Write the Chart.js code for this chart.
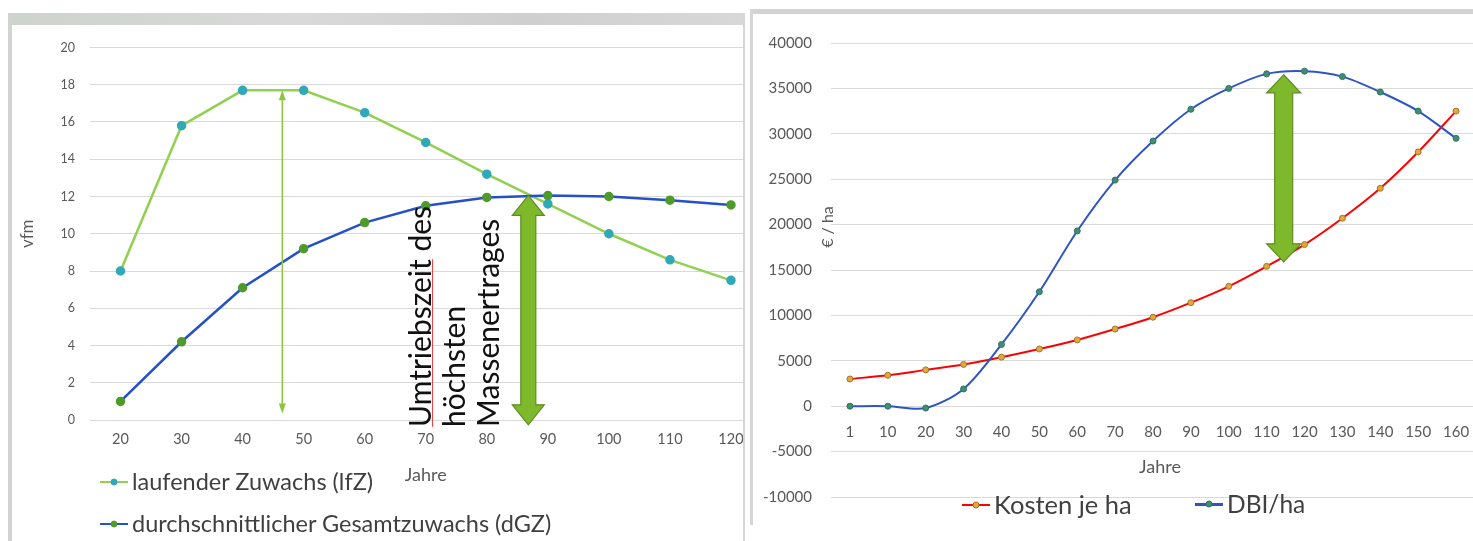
<!DOCTYPE html>
<html>
<head>
<meta charset="utf-8">
<script src="https://cdn.jsdelivr.net/npm/chart.js@4.4.0/dist/chart.umd.min.js"></script>
<style>
  body { margin: 0; width: 1473px; height: 541px; overflow: hidden; position: relative; background: #fff; font-family: Lato, sans-serif; }
  .deco { position: absolute; }
  .clip { position: absolute; overflow: hidden; }
  .lg { position: absolute; display: flex; align-items: center; color: #404040; white-space: nowrap; line-height: 1; }
  .sw { position: relative; width: 28px; height: 2.5px; background: var(--c); margin-right: 4px; }
  .sw::after { content: ''; position: absolute; left: 50%; top: 50%; width: 7px; height: 7px; border-radius: 50%;
               background: var(--m); border: 1px solid var(--b); box-sizing: border-box; transform: translate(-50%, -50%); }
</style>
</head>
<body>
<!-- panel frames -->
<div class="deco" style="left:8px;top:13px;width:737px;height:12px;background:linear-gradient(90deg,#cdd3cd,#d9d9d9 40%,#cfcfcf 70%,#d8d8d8)"></div>
<div class="deco" style="left:8px;top:13px;width:4px;height:528px;background:#d2d2d2"></div>
<div class="deco" style="left:743px;top:13px;width:2px;height:528px;background:#d6d6d6"></div>
<div class="deco" style="left:750px;top:9px;width:723px;height:5px;background:#d3d3d3"></div>
<div class="deco" style="left:750px;top:9px;width:3px;height:516px;background:#d6d6d6"></div>

<div class="clip" style="left:12px;top:25px;width:731px;height:516px">
  <canvas id="leftChart" width="756" height="516"></canvas>
</div>
<div class="clip" style="left:753px;top:14px;width:720px;height:511px">
  <canvas id="rightChart" width="727" height="511"></canvas>
</div>

<!-- legends -->
<div class="lg" style="left:100px;top:470px;font-size:23.5px"><span class="sw" style="--c:#92d050;--m:#31a8b8;--b:#31a8b8"></span>laufender Zuwachs (lfZ)</div>
<div class="lg" style="left:100px;top:512px;font-size:23.5px"><span class="sw" style="--c:#2450c8;--m:#4e9a2a;--b:#4e9a2a"></span>durchschnittlicher Gesamtzuwachs (dGZ)</div>
<div class="lg" style="left:962px;top:492px;font-size:25.5px"><span class="sw" style="--c:#ff0000;--m:#e9a53c;--b:#9a7a2a"></span>Kosten je ha</div>
<div class="lg" style="left:1195px;top:492px;font-size:24.5px"><span class="sw" style="--c:#2e55c4;--m:#3f8f6f;--b:#2f6f6f"></span>DBI/ha</div>

<script>
// left chart data (vfm per year)
const leftYears = ['20', '30', '40', '50', '60', '70', '80', '90', '100', '110', '120'];
const lfz = [8.0, 15.8, 17.7, 17.7, 16.5, 14.9, 13.2, 11.6, 10.0, 8.6, 7.5];
const dgz = [1.0, 4.2, 7.1, 9.2, 10.6, 11.5, 11.95, 12.05, 12.0, 11.8, 11.55];

// right chart data (Euro per ha)
const rightYears = ['1', '10', '20', '30', '40', '50', '60', '70', '80', '90', '100', '110', '120', '130', '140', '150', '160'];
const kosten = [3000, 3400, 4000, 4600, 5400, 6300, 7300, 8500, 9800, 11400, 13200, 15400, 17800, 20700, 24000, 28000, 32500];
const dbi = [0, 0, -200, 1900, 6800, 12600, 19300, 24900, 29200, 32700, 35000, 36600, 36900, 36300, 34600, 32500, 29500];

// annotations in data units (category index, value)
const leftArrows = [
  { at: 2.65, from: 17.7, to: 0.35, thin: true },
  { at: 6.68, from: 12.06, to: -0.26, head: 16, shaft: 7.5, len: 20 }
];
const leftNote = ['Umtriebszeit des', 'höchsten', 'Massenertrages'];
const leftNoteAt = [4.93, 5.48, 6.04];
const rightArrows = [
  { at: 11.45, from: 36500, to: 15900, head: 17, shaft: 9, len: 18 }
];

Chart.defaults.font.family = 'Lato, sans-serif';
Chart.defaults.color = '#595959';

function drawArrow(ctx, x, yTop, yBot, a) {
  ctx.save();
  if (a.thin) {
    ctx.strokeStyle = '#8cc63f';
    ctx.fillStyle = '#8cc63f';
    ctx.lineWidth = 1.5;
    ctx.beginPath();
    ctx.moveTo(x, yTop + 8);
    ctx.lineTo(x, yBot - 8);
    ctx.stroke();
    [[yTop, 1], [yBot, -1]].forEach(([tip, dir]) => {
      ctx.beginPath();
      ctx.moveTo(x, tip);
      ctx.lineTo(x + 3.5, tip + dir * 10);
      ctx.lineTo(x - 3.5, tip + dir * 10);
      ctx.closePath();
      ctx.fill();
    });
  } else {
    const h = a.head, s = a.shaft, l = a.len;
    ctx.fillStyle = '#7db92b';
    ctx.strokeStyle = '#5e8c22';
    ctx.lineWidth = 1.2;
    ctx.beginPath();
    ctx.moveTo(x, yTop);
    ctx.lineTo(x + h, yTop + l);
    ctx.lineTo(x + s, yTop + l);
    ctx.lineTo(x + s, yBot - l);
    ctx.lineTo(x + h, yBot - l);
    ctx.lineTo(x, yBot);
    ctx.lineTo(x - h, yBot - l);
    ctx.lineTo(x - s, yBot - l);
    ctx.lineTo(x - s, yTop + l);
    ctx.lineTo(x - h, yTop + l);
    ctx.closePath();
    ctx.fill();
    ctx.stroke();
  }
  ctx.restore();
}

function drawText(ctx, text, x, y, font, color, rotate, align) {
  ctx.save();
  ctx.translate(x, y);
  if (rotate) ctx.rotate(-Math.PI / 2);
  ctx.font = font;
  ctx.fillStyle = color;
  ctx.textAlign = align || 'center';
  ctx.textBaseline = 'middle';
  ctx.fillText(text, 0, 0);
  ctx.restore();
}

const annotate = {
  id: 'annotate',
  afterDatasetsDraw(chart, args, opts) {
    const { ctx } = chart;
    const x = chart.scales.x, y = chart.scales.y;
    (opts.arrows || []).forEach(a => {
      drawArrow(ctx, x.getPixelForValue(a.at), y.getPixelForValue(a.from), y.getPixelForValue(a.to), a);
    });
    if (opts.note) {
      const base = y.getPixelForValue(-0.37);
      opts.note.forEach((t, i) => {
        drawText(ctx, t, x.getPixelForValue(opts.noteAt[i]), base, '30px Lato', '#111', true, 'left');
      });
      // spell-check squiggle under the first word
      ctx.save();
      ctx.font = '30px Lato';
      const w = ctx.measureText('Umtriebszeit').width;
      const px = x.getPixelForValue(opts.noteAt[0]) + 11;
      ctx.strokeStyle = '#e84040';
      ctx.lineWidth = 1;
      ctx.beginPath();
      ctx.moveTo(px, base);
      ctx.lineTo(px, base - w);
      ctx.stroke();
      ctx.restore();
    }
    (opts.labels || []).forEach(l => drawText(ctx, l.text, l.x, l.y, l.font, '#595959', l.rotate));
  }
};

// keep the category axis from padding the plot area for its end labels
const noSidePad = h => s => { s.height = h; s.paddingLeft = 0; s.paddingRight = 0; };

new Chart(document.getElementById('leftChart'), {
  type: 'line',
  data: {
    labels: leftYears,
    datasets: [
      {
        label: 'laufender Zuwachs (lfZ)',
        data: lfz,
        borderColor: '#92d050',
        borderWidth: 2.5,
        pointRadius: 3.5,
        pointBackgroundColor: '#31a8b8',
        pointBorderColor: '#31a8b8',
        order: 2
      },
      {
        label: 'durchschnittlicher Gesamtzuwachs (dGZ)',
        data: dgz,
        borderColor: '#2450c8',
        borderWidth: 2.5,
        pointRadius: 3.5,
        pointBackgroundColor: '#4e9a2a',
        pointBorderColor: '#4e9a2a',
        order: 1
      }
    ]
  },
  options: {
    animation: false,
    responsive: false,
    layout: { padding: { top: 17, bottom: 59, left: 0, right: 0 } },
    plugins: {
      legend: { display: false },
      tooltip: { enabled: false },
      annotate: { arrows: leftArrows, note: leftNote, noteAt: leftNoteAt }
    },
    scales: {
      x: {
        offset: true,
        grid: { display: false, drawTicks: false },
        border: { display: false },
        ticks: { font: { size: 14.5 }, padding: 11 },
        title: { display: true, text: 'Jahre', font: { size: 18 }, color: '#595959', padding: { top: 0, bottom: -4 } },
        afterFit: noSidePad(62)
      },
      y: {
        min: 0,
        max: 20,
        ticks: { stepSize: 2, font: { size: 12.5 }, padding: 15 },
        grid: { color: '#d9d9d9', drawTicks: false },
        border: { display: false },
        title: { display: true, text: 'vfm', font: { size: 17 }, color: '#595959', padding: { top: 5, bottom: 0 } },
        afterFit: s => { s.width = 78; }
      }
    }
  },
  plugins: [annotate]
});

new Chart(document.getElementById('rightChart'), {
  type: 'line',
  data: {
    labels: rightYears,
    datasets: [
      {
        label: 'Kosten je ha',
        data: kosten,
        borderColor: '#ff0000',
        borderWidth: 2,
        tension: 0.3,
        pointRadius: 3,
        pointBackgroundColor: '#e9a53c',
        pointBorderColor: '#9a7a2a',
        pointBorderWidth: 1,
        order: 2
      },
      {
        label: 'DBI/ha',
        data: dbi,
        borderColor: '#2e55c4',
        borderWidth: 2,
        tension: 0.3,
        pointRadius: 3,
        pointBackgroundColor: '#3f8f6f',
        pointBorderColor: '#2f6f6f',
        pointBorderWidth: 1,
        order: 1
      }
    ]
  },
  options: {
    animation: false,
    responsive: false,
    layout: { padding: { top: 29, bottom: 28, left: 0, right: 0 } },
    plugins: {
      legend: { display: false },
      tooltip: { enabled: false },
      annotate: {
        arrows: rightArrows,
        labels: [
          { text: '€ / ha', x: 75, y: 213, font: '16px Lato', rotate: true },
          { text: 'Jahre', x: 407, y: 453, font: '18px Lato' }
        ]
      }
    },
    scales: {
      x: {
        position: { y: 0 },
        offset: true,
        grid: { display: false, drawTicks: false },
        border: { display: false },
        ticks: { font: { size: 15 }, padding: 17 },
        afterFit: noSidePad(40)
      },
      y: {
        min: -10000,
        max: 40000,
        ticks: { stepSize: 5000, font: { size: 15 }, padding: 19, callback: v => String(v) },
        grid: { color: '#d9d9d9', drawTicks: false },
        border: { display: false },
        afterFit: s => { s.width = 78; }
      }
    }
  },
  plugins: [annotate]
});
</script>
</body>
</html>
